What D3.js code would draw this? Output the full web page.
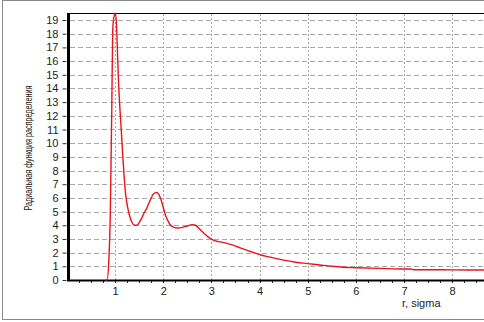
<!DOCTYPE html>
<html>
<head>
<meta charset="utf-8">
<script src="https://cdnjs.cloudflare.com/ajax/libs/d3/7.8.5/d3.min.js"></script>
<style>
  body { margin: 0; background: #fff; }
  svg { display: block; }
  text { font-family: Arial, "Liberation Sans", sans-serif; }
</style>
</head>
<body>
<div id="chart"></div>
<script>
// radial distribution function
var rValues = [0.80, 0.83, 0.87, 0.90, 0.92, 0.93, 0.95, 0.98, 1.01, 1.03, 1.05, 1.07, 1.10, 1.13,
  1.16, 1.19, 1.22, 1.26, 1.30, 1.35, 1.40, 1.45, 1.50, 1.55, 1.60, 1.65, 1.70, 1.75, 1.80, 1.86,
  1.90, 1.95, 2.00, 2.05, 2.10, 2.15, 2.22, 2.30, 2.40, 2.50, 2.60, 2.67, 2.75, 2.85, 2.95, 3.05,
  3.15, 3.30, 3.45, 3.60, 3.80, 4.00, 4.25, 4.50, 4.75, 5.00, 5.25, 5.50, 5.75, 6.00, 6.50, 7.00,
  7.15, 7.20, 7.50, 8.00, 8.70];
var gValues = [0.0, 0.0, 1.5, 5.0, 10.0, 12.4, 18.3, 19.3, 19.5, 18.5, 16.5, 14.5, 12.5, 10.8,
  9.0, 7.4, 6.2, 5.3, 4.7, 4.2, 4.0, 4.0, 4.2, 4.5, 4.9, 5.2, 5.6, 6.0, 6.3, 6.4,
  6.3, 5.9, 5.3, 4.7, 4.3, 4.0, 3.85, 3.8, 3.85, 3.95, 4.05, 4.0, 3.75, 3.4, 3.1, 2.9,
  2.8, 2.7, 2.55, 2.35, 2.1, 1.85, 1.65, 1.45, 1.3, 1.2, 1.1, 1.0, 0.93, 0.9, 0.85, 0.8,
  0.8, 0.75, 0.75, 0.74, 0.73];
var xTicks = [1, 2, 3, 4, 5, 6, 7, 8];
var yTicks = d3.range(0, 20);
var yLabel = "Радиальная функция распределения";
var xLabel = "r, sigma";

var width = 484, height = 322;
var svg = d3.select("#chart").append("svg")
    .attr("width", width)
    .attr("height", height);

// outer frame
svg.append("rect")
    .attr("x", 2.5).attr("y", 0.5)
    .attr("width", width).attr("height", 319)
    .attr("fill", "none")
    .attr("stroke", "#8a8a8a");

var x = d3.scaleLinear().domain([0, 8.7]).range([67, 67 + 48.14 * 8.7]);
var y = d3.scaleLinear().domain([0, 19.5]).range([280, 13.2]);

// grid
svg.append("g").selectAll("line")
    .data(yTicks.slice(1))
    .enter().append("line")
    .attr("x1", 70).attr("x2", width)
    .attr("y1", function(d) { return Math.round(y(d)) + 0.5; })
    .attr("y2", function(d) { return Math.round(y(d)) + 0.5; })
    .attr("stroke", "#a8a8a8")
    .attr("stroke-dasharray", "5,3");

svg.append("g").selectAll("line")
    .data(xTicks)
    .enter().append("line")
    .attr("x1", function(d) { return Math.round(x(d)) + 0.5; })
    .attr("x2", function(d) { return Math.round(x(d)) + 0.5; })
    .attr("y1", 14).attr("y2", 280)
    .attr("stroke", "#a8a8a8")
    .attr("stroke-dasharray", "2,2");

// top border line
svg.append("line")
    .attr("x1", 67).attr("x2", width)
    .attr("y1", 13.5).attr("y2", 13.5)
    .attr("stroke", "#000");

// y axis
var yAxis = d3.axisLeft(y).tickValues(yTicks).tickSize(4).tickPadding(4);
var gy = svg.append("g").attr("transform", "translate(66.5,0)").call(yAxis);
gy.select(".domain").remove();
gy.selectAll("line").attr("stroke", "#333");
gy.selectAll("text").attr("font-size", "11px").attr("fill", "#222");

svg.append("rect")
    .attr("x", 67).attr("y", 13)
    .attr("width", 3).attr("height", 268)
    .attr("fill", "#000");

// x axis
var xAxis = d3.axisBottom(x).tickValues(xTicks).tickSize(0).tickPadding(7);
var gx = svg.append("g").attr("transform", "translate(0,280)").call(xAxis);
gx.select(".domain").remove();
gx.selectAll("text").attr("font-size", "11px").attr("fill", "#222");

svg.append("g").selectAll("line")
    .data(d3.range(0.25, 8.7, 0.25))
    .enter().append("line")
    .attr("x1", function(d) { return Math.round(x(d)) + 0.5; })
    .attr("x2", function(d) { return Math.round(x(d)) + 0.5; })
    .attr("y1", 280).attr("y2", 283)
    .attr("stroke", "#222");

svg.append("line")
    .attr("x1", 67).attr("x2", width)
    .attr("y1", 280.5).attr("y2", 280.5)
    .attr("stroke", "#000")
    .attr("stroke-width", 2);

// curve
var pts = rValues.map(function(r, i) { return [r, gValues[i]]; });
var line = d3.line()
    .x(function(d) { return x(d[0]); })
    .y(function(d) { return y(d[1]); })
    .curve(d3.curveMonotoneX);

svg.append("path")
    .datum(pts)
    .attr("d", line)
    .attr("fill", "none")
    .attr("stroke", "#e8141c")
    .attr("stroke-width", 1.4);

// labels
svg.append("text")
    .attr("transform", "translate(32,148) rotate(-90)")
    .attr("text-anchor", "middle")
    .attr("font-size", "10px")
    .attr("textLength", 125)
    .attr("lengthAdjust", "spacingAndGlyphs")
    .attr("fill", "#222")
    .text(yLabel);

svg.append("text")
    .attr("x", 402).attr("y", 307)
    .attr("font-size", "11px")
    .attr("fill", "#222")
    .text(xLabel);
</script>
</body>
</html>
